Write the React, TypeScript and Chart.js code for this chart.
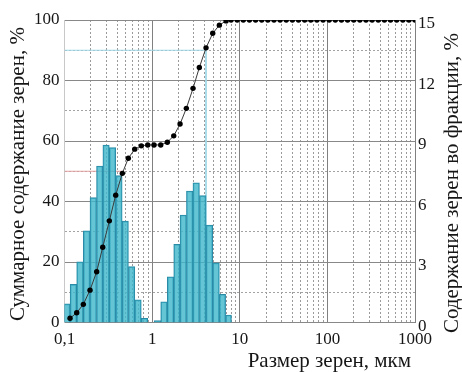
import React, { useEffect, useRef } from 'react';
import { Chart, registerables } from 'chart.js';

Chart.register(...registerables);

// Upper bin edges (grain size, µm) at which the cumulative curve is measured
const binUpper = [
  0.1156, 0.1378, 0.164, 0.1955, 0.233, 0.273, 0.325, 0.384, 0.457, 0.535,
  0.633, 0.753, 0.891, 1.051, 1.254, 1.491, 1.765, 2.083, 2.458, 2.93,
  3.458, 4.124, 4.918, 5.849, 6.977, 7.957, 9.35, 10.98, 12.9, 15.16,
  17.81, 20.92, 24.59, 28.89, 33.94, 39.87, 46.85, 55.05, 64.68, 75.99,
  89.29, 104.9, 123.2, 144.8, 170.1, 199.9, 234.9, 275.9, 324.2, 380.9,
  447.6, 525.9, 617.9, 726, 852.9, 1000,
];
const firstBinLower = 0.098;

// Cumulative content, % (left axis)
const cumulative = [
  1.4, 3.2, 6.0, 10.7, 16.8, 24.9, 33.6, 42.1, 49.3, 54.3,
  57.3, 58.4, 58.7, 58.7, 58.7, 59.6, 61.7, 65.6, 70.8, 77.4,
  84.3, 90.8, 95.6, 98.3, 99.7, 100, 100, 100, 100, 100,
  100, 100, 100, 100, 100, 100, 100, 100, 100, 100,
  100, 100, 100, 100, 100, 100, 100, 100, 100, 100,
  100, 100, 100, 100, 100, 100,
];

// Content per fraction, % (right axis), one value per bin
const fraction: (number | null)[] = [
  0.92, 1.89, 3.01, 4.54, 6.19, 7.76, 8.8, 8.67, 7.28, 5.03,
  2.77, 1.12, 0.21, null, 0.09, 1.03, 2.27, 3.88, 5.33, 6.52,
  6.93, 6.29, 4.83, 2.96, 1.4, 0.37,
];

const d90Size = 4.12;
const d90Value = 90;
const d50Size = 0.466;
const d50Value = 50;

const xDecades = [0.1, 1, 10, 100];
const xTickValues = [0.1, 1, 10, 100, 1000];
const xTickLabels = ['0,1', '1', '10', '100', '1000'];
const leftLabelStep = 20;
const rightTicks = [0, 3, 6, 9, 12, 15];

const xTitle = 'Размер зерен, мкм';
const leftTitle = 'Суммарное содержание зерен, %';
const rightTitle = 'Содержание зерен во фракции, %';

const FONT = "'Liberation Serif'";
const TEXT = '#161616';

function isDecade(v: number) {
  const l = Math.log10(v);
  return Math.abs(l - Math.round(l)) < 1e-6;
}

const titlesPlugin = {
  id: 'titles',
  afterDraw(chart: any) {
    const ctx = chart.ctx as CanvasRenderingContext2D;
    ctx.save();
    ctx.fillStyle = TEXT;
    ctx.font = `21px ${FONT}`;
    ctx.textAlign = 'center';
    ctx.textBaseline = 'middle';
    ctx.save();
    ctx.translate(18, 174);
    ctx.rotate(-Math.PI / 2);
    ctx.fillText(leftTitle, 0, 0);
    ctx.restore();
    ctx.save();
    ctx.translate(452, 183);
    ctx.rotate(-Math.PI / 2);
    ctx.fillText(rightTitle, 0, 0);
    ctx.restore();
    ctx.textAlign = 'right';
    ctx.textBaseline = 'alphabetic';
    ctx.fillText(xTitle, 411, 367);
    ctx.restore();
  },
};

export default function App() {
  const ref = useRef<HTMLCanvasElement | null>(null);

  useEffect(() => {
    if (!ref.current) return;
    const barData = fraction.map((v, i) => {
      const lo = i === 0 ? firstBinLower : binUpper[i - 1];
      const hi = binUpper[i];
      return { x: Math.sqrt(lo * hi), y: v };
    });
    const cumData = binUpper.map((s, i) => ({ x: s, y: cumulative[i] }));

    const chart = new Chart(ref.current, {
      type: 'bar',
      data: {
        datasets: [
          {
            type: 'line',
            data: cumData,
            yAxisID: 'y',
            borderColor: '#3a3a3a',
            borderWidth: 1,
            pointRadius: 2.7,
            pointBackgroundColor: '#000',
            pointBorderColor: '#000',
            pointBorderWidth: 0,
            tension: 0,
            order: 0,
          } as any,
          {
            type: 'bar',
            data: barData,
            yAxisID: 'y2',
            backgroundColor: 'rgba(62,182,202,0.8)',
            borderColor: '#2b8aa6',
            borderWidth: 1,
            borderSkipped: 'start',
            barThickness: 'flex',
            barPercentage: 1,
            categoryPercentage: 1,
            order: 1,
          } as any,
          {
            type: 'line',
            data: [
              { x: xTickValues[0], y: d90Value },
              { x: d90Size, y: d90Value },
              { x: d90Size, y: 0 },
            ],
            yAxisID: 'y',
            borderColor: '#9fd8e6',
            borderWidth: 1,
            pointRadius: 0,
            order: 2,
          } as any,
          {
            type: 'line',
            data: [
              { x: xTickValues[0], y: d50Value },
              { x: d50Size, y: d50Value },
            ],
            yAxisID: 'y',
            borderColor: '#e2a0a0',
            borderWidth: 1,
            pointRadius: 0,
            order: 2,
          } as any,
        ],
      },
      options: {
        responsive: false,
        animation: false,
        layout: { padding: { top: 20, left: 0, right: 0, bottom: 0 } },
        plugins: { legend: { display: false }, tooltip: { enabled: false }, title: { display: false } },
        scales: {
          x: {
            type: 'logarithmic',
            min: 0.1,
            max: 1000,
            offset: false,
            afterBuildTicks: (scale: any) => {
              const t: any[] = [];
              xDecades.forEach((d) => {
                for (let m = 1; m <= 9; m++) t.push({ value: Number((d * m).toPrecision(6)) });
              });
              t.push({ value: 1000 });
              scale.ticks = t;
            },
            afterFit: (scale: any) => {
              scale.height = 49.5;
            },
            ticks: {
              autoSkip: false,
              maxRotation: 0,
              minRotation: 0,
              padding: 7,
              color: TEXT,
              font: { family: FONT, size: 17 },
              callback: (value: any) => {
                const v = Number(value);
                const idx = xTickValues.findIndex((t) => Math.abs(t - v) / t < 1e-6);
                return idx >= 0 ? xTickLabels[idx] : '';
              },
            },
            grid: {
              offset: false,
              drawTicks: false,
              lineWidth: 1,
              color: (ctx: any) => {
                if (!ctx.tick) return '#999';
                if (ctx.tick.value === 0.1) return '#c8c8c8';
                return isDecade(ctx.tick.value) ? '#808080' : '#9a9a9a';
              },
            },
            border: {
              display: false,
              dash: (ctx: any) => (ctx.tick && !isDecade(ctx.tick.value) ? [2, 2] : []),
            },
          },
          y: {
            type: 'linear',
            position: 'left',
            min: 0,
            max: 100,
            afterFit: (scale: any) => {
              scale.width = 64.5;
            },
            ticks: {
              stepSize: 10,
              padding: 5,
              color: TEXT,
              font: { family: FONT, size: 17 },
              callback: (value: any) => (Number(value) % leftLabelStep === 0 ? String(value) : ''),
            },
            grid: {
              drawTicks: false,
              lineWidth: 1,
              color: (ctx: any) =>
                ctx.tick && ctx.tick.value % leftLabelStep === 0 ? '#888' : '#a3a3a3',
            },
            border: {
              display: false,
              dash: (ctx: any) => (ctx.tick && ctx.tick.value % leftLabelStep !== 0 ? [2, 2] : []),
            },
          },
          y2: {
            type: 'linear',
            position: 'right',
            min: 0,
            max: 15,
            afterBuildTicks: (scale: any) => {
              scale.ticks = rightTicks.map((v) => ({ value: v }));
            },
            afterFit: (scale: any) => {
              scale.width = 47;
            },
            ticks: {
              padding: 3,
              labelOffset: 4,
              color: TEXT,
              font: { family: FONT, size: 17 },
            },
            grid: { display: false, drawTicks: false },
            border: { display: false },
          },
        },
      } as any,
      plugins: [titlesPlugin],
    });
    return () => chart.destroy();
  }, []);

  return (
    <canvas
      ref={ref}
      width={462}
      height={372}
      style={{ position: 'fixed', left: 0, top: 0, width: 462, height: 372, display: 'block', background: '#fff' }}
    />
  );
}
